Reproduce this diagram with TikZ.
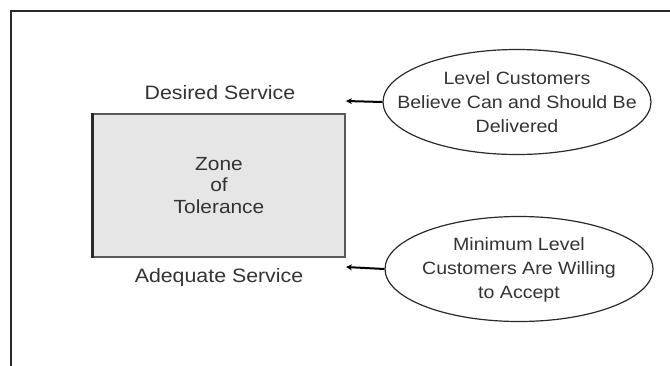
\documentclass[tikz,border=0pt]{standalone}
\usepackage{fontspec}
\setmainfont[FakeStretch=1.1]{Liberation Sans}
\usetikzlibrary{shapes.geometric,arrows.meta}
\definecolor{txt}{HTML}{333333}
\definecolor{boxfill}{HTML}{E6E6E6}
\definecolor{boxline}{HTML}{5A5A5A}
\definecolor{lin}{HTML}{2A2A2A}
\tikzset{
  label text/.style={text=txt, font=\fontsize{19.4}{22}\selectfont, inner sep=0pt},
  zonebox/.style={draw=boxline, line width=1.4pt, fill=boxfill, minimum width=252pt, minimum height=143pt, inner sep=0pt, text=txt, align=center, font=\fontsize{19}{21.5}\selectfont},
  bubble/.style={ellipse, draw=lin, line width=1.2pt, minimum width=268pt, minimum height=105pt, inner sep=0pt},
  bubble text/.style={text=txt, align=center, inner sep=0pt, font=\fontsize{17.8}{24}\selectfont},
  pointer/.style={draw=black, line width=2pt, -{Stealth[length=6pt,width=6pt]}},
  frameline/.style={draw=lin, line width=1.8pt}
}
\begin{document}
\begin{tikzpicture}[x=1pt,y=-1pt]
\useasboundingbox (0,0) rectangle (670,365);
\coordinate (fb) at (11,366);
\coordinate (fc) at (11,11);
\coordinate (fr) at (671,11);
\draw[frameline] (fb) -- (fc) -- (fr);
\node[zonebox] (zone) at (219,185.5) {Zone\\of\\Tolerance};
\draw[draw=lin, line width=2.4pt] (zone.north west) -- (zone.south west);
\node[label text] (desired) at (220,92.5) {Desired Service};
\node[label text] (adequate) at (219,277.5) {Adequate Service};
\node[bubble] (upper) at (517,102) {};
\node[bubble text] (uppertext) at (517,102) {Level Customers\\Believe Can and Should Be\\Delivered};
\node[bubble] (lower) at (519,269) {};
\node[bubble text] (lowertext) at (519,270) {Minimum Level\\Customers Are Willing\\to Accept};
\coordinate (t1) at (346,101);
\coordinate (t2) at (346,267);
\draw[pointer] (upper.west) -- (t1);
\draw[pointer] (lower.west) -- (t2);
\end{tikzpicture}
\end{document}
